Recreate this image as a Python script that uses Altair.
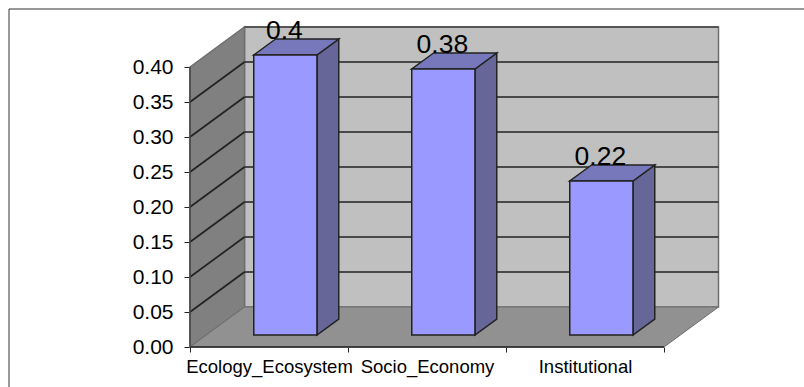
import altair as alt
import pandas as pd

# Chart values
categories = ["Ecology_Ecosystem", "Socio_Economy", "Institutional"]
scores = [0.4, 0.38, 0.22]
y_ticks = [0.0, 0.05, 0.10, 0.15, 0.20, 0.25, 0.30, 0.35, 0.40]
grid_levels = [0.05, 0.10, 0.15, 0.20, 0.25, 0.30, 0.35]

# Plot geometry: category units on x, score units on y
PLOT_W, PLOT_H = 530, 320
PX_PER_CAT = 158
PX_PER_SCORE = 700
DEPTH_X = 54.5 / PX_PER_CAT   # how far the back wall sits to the right
DEPTH_Y = 40 / PX_PER_SCORE   # how far the back wall sits upward
TOP = 0.40
N = len(categories)
BAR_W = 1 / 2.5
NEAR, FAR = 0.3, 0.7          # bar position along the chart's depth

x_scale = alt.Scale(domain=[0, PLOT_W / PX_PER_CAT], range=[0, PLOT_W], nice=False, zero=False)
y_scale = alt.Scale(domain=[0, PLOT_H / PX_PER_SCORE], range=[PLOT_H, 0], nice=False, zero=False)


def X(field="x"):
    return alt.X(f"{field}:Q", scale=x_scale, axis=None)


def Y(field="y"):
    return alt.Y(f"{field}:Q", scale=y_scale, axis=None)


X2 = alt.X2("x2:Q")
Y2 = alt.Y2("y2:Q")

LINE = "#222222"
EDGE = "#6e6e6e"

# Chart frame, open at the bottom and right like a cropped box
FRAME_L = -181 / PX_PER_CAT
FRAME_R = 614 / PX_PER_CAT
FRAME_T = (PLOT_H + 18) / PX_PER_SCORE
FRAME_B = -40 / PX_PER_SCORE
frame_left = alt.Chart(pd.DataFrame({"x": [FRAME_L], "x2": [FRAME_L], "y": [FRAME_B], "y2": [FRAME_T]})).mark_rule(
    color="#777777", strokeWidth=1.5
).encode(X(), X2, Y(), Y2)
frame_top = alt.Chart(pd.DataFrame({"x": [FRAME_L], "x2": [FRAME_R], "y": [FRAME_T], "y2": [FRAME_T]})).mark_rule(
    color="#333333", strokeWidth=1.2
).encode(X(), X2, Y(), Y2)

# Back wall, side wall and floor
back_df = pd.DataFrame({"x": [DEPTH_X], "x2": [N + DEPTH_X], "y": [DEPTH_Y], "y2": [TOP + DEPTH_Y]})
back = alt.Chart(back_df).mark_rect(fill="#c0c0c0", stroke=EDGE, strokeWidth=1.5).encode(X(), X2, Y(), Y2)

side_df = pd.DataFrame({"x": [0, DEPTH_X], "y": [TOP, TOP + DEPTH_Y], "y2": [0, DEPTH_Y]})
side = alt.Chart(side_df).mark_area(fill="#808080", stroke=EDGE, strokeWidth=1.5).encode(X(), Y(), Y2)

floor_df = pd.DataFrame({"x": [0, DEPTH_X], "x2": [N, N + DEPTH_X], "y": [0, DEPTH_Y]})
floor = alt.Chart(floor_df).mark_area(orient="horizontal", fill="#919191", stroke=EDGE, strokeWidth=1).encode(X(), X2, Y())

# Grid lines run across the back wall and down the side wall
wall_df = pd.DataFrame({
    "x": [DEPTH_X] * len(grid_levels),
    "x2": [N + DEPTH_X] * len(grid_levels),
    "y": [v + DEPTH_Y for v in grid_levels],
    "y2": [v + DEPTH_Y for v in grid_levels],
})
slant_df = pd.DataFrame({
    "x": [0.0] * len(grid_levels),
    "x2": [DEPTH_X] * len(grid_levels),
    "y": grid_levels,
    "y2": [v + DEPTH_Y for v in grid_levels],
})
grid_wall = alt.Chart(wall_df).mark_rule(color=LINE, strokeWidth=1.7).encode(X(), X2, Y(), Y2)
grid_slant = alt.Chart(slant_df).mark_rule(color=LINE, strokeWidth=1.7).encode(X(), X2, Y(), Y2)
top_edge_df = pd.DataFrame({"x": [DEPTH_X], "x2": [N + DEPTH_X], "y": [TOP + DEPTH_Y], "y2": [TOP + DEPTH_Y]})
top_edge = alt.Chart(top_edge_df).mark_rule(color="#444444", strokeWidth=1.7).encode(X(), X2, Y(), Y2)
base_df = pd.DataFrame({"x": [0], "x2": [N], "y": [0], "y2": [0]})
base = alt.Chart(base_df).mark_rule(color=LINE, strokeWidth=1.7).encode(X(), X2, Y(), Y2)
spine_df = pd.DataFrame({"x": [0], "x2": [0], "y": [0], "y2": [TOP]})
spine = alt.Chart(spine_df).mark_rule(color="#444444", strokeWidth=1.5).encode(X(), X2, Y(), Y2)

# Bar faces derived from the scores
front_rows, side_rows, top_rows, label_rows = [], [], [], []
for i, (cat, v) in enumerate(zip(categories, scores)):
    left = i + (1 - BAR_W) / 2 + NEAR * DEPTH_X
    right = left + BAR_W
    bottom = NEAR * DEPTH_Y
    upper = bottom + v
    shift_x = (FAR - NEAR) * DEPTH_X
    shift_y = (FAR - NEAR) * DEPTH_Y
    front_rows.append({"cat": cat, "x": left, "x2": right, "y": bottom, "y2": upper})
    side_rows += [
        {"cat": cat, "x": right, "y": upper, "y2": bottom},
        {"cat": cat, "x": right + shift_x, "y": upper + shift_y, "y2": bottom + shift_y},
    ]
    top_rows += [
        {"cat": cat, "x": left, "x2": right, "y": upper},
        {"cat": cat, "x": left + shift_x, "x2": right + shift_x, "y": upper + shift_y},
    ]
    label_rows.append({"x": (left + right) / 2, "y": upper + shift_y, "label": str(v)})

bar_side = alt.Chart(pd.DataFrame(side_rows)).mark_area(
    fill="#666699", stroke=LINE, strokeWidth=1.5
).encode(X(), Y(), Y2, detail="cat:N")
bar_top = alt.Chart(pd.DataFrame(top_rows)).mark_area(
    orient="horizontal", fill="#7777bb", stroke=LINE, strokeWidth=1.5
).encode(X(), X2, Y(), detail="cat:N")
bar_front = alt.Chart(pd.DataFrame(front_rows)).mark_rect(
    fill="#9999ff", stroke=LINE, strokeWidth=1.5
).encode(X(), X2, Y(), Y2)

labels = alt.Chart(pd.DataFrame(label_rows)).mark_text(
    font="Liberation Sans", fontSize=26.5, color="#000000", baseline="alphabetic", dx=-1
).encode(X(), Y(), text="label:N")

# Axes: the value axis on the side wall's front edge, category labels under the floor
axis_df = pd.DataFrame({"cat": categories, "v": scores})
axes = alt.Chart(axis_df).mark_point(opacity=0).encode(
    x=alt.X(
        "cat:N",
        sort=categories,
        title=None,
        scale=alt.Scale(domain=categories, range=[0, N * PX_PER_CAT], paddingInner=0, paddingOuter=0),
        axis=alt.Axis(
            domain=False, grid=False, labelAngle=0, tickBand="extent", tickSize=5,
            tickColor=LINE, labelColor="#000000", labelFont="Liberation Sans",
            labelFontSize=18.5, labelPadding=5,
        ),
    ),
    y=alt.Y(
        "v:Q",
        title=None,
        scale=y_scale,
        axis=alt.Axis(
            values=y_ticks, format=".2f", domain=False, grid=False, tickSize=6,
            tickColor=LINE, labelColor="#000000", labelFont="Liberation Sans",
            labelFontSize=21, labelPadding=11,
        ),
    ),
)

chart = (
    alt.layer(
        frame_left, frame_top, back, side, floor, grid_wall, grid_slant, top_edge, base, spine,
        bar_side, bar_top, bar_front, labels, axes,
    )
    .resolve_scale(x="independent", y="independent")
    .properties(
        width=PLOT_W,
        height=PLOT_H,
        padding={"left": 190, "top": 27, "right": 84, "bottom": 40},
        autosize=alt.AutoSizeParams(type="none"),
        background="white",
    )
    .configure_view(stroke=None)
)

chart.save("out.html", embed_options={"renderer": "svg", "actions": False})
